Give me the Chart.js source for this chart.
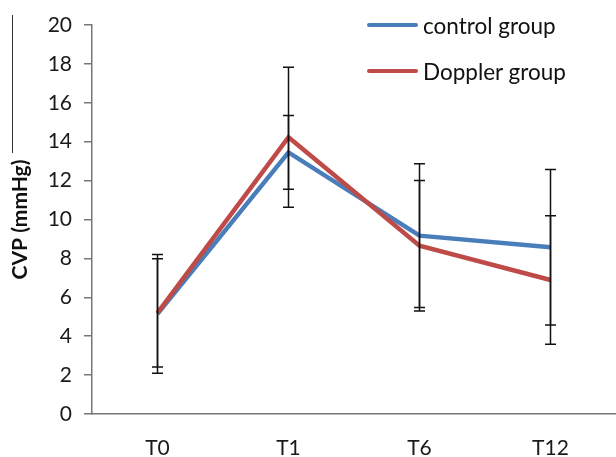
<!DOCTYPE html>
<html>
<head>
<meta charset="utf-8">
<script src="https://cdn.jsdelivr.net/npm/chart.js@4/dist/chart.umd.min.js"></script>
<style>
  html, body { margin: 0; padding: 0; background: #fff; }
  #wrap { position: relative; width: 616px; height: 457px; }
  #edge { position: absolute; left: 12px; top: 15px; width: 1px; height: 138px; background: #333; }
  .legend-item { position: absolute; left: 367px; height: 26px; display: flex; align-items: center; font-family: Lato, sans-serif; font-size: 22.5px; color: #111; }
  .legend-item span.swatch { display: inline-block; width: 51px; height: 4px; border-radius: 2px; margin-right: 5px; }
</style>
</head>
<body>
<div id="wrap">
  <canvas id="cvpChart" width="616" height="457"></canvas>
  <div id="edge"></div>
  <div id="legend"></div>
</div>
<script>
const timePoints = ["T0", "T1", "T6", "T12"];
const controlValues = [5.15, 13.45, 9.17, 8.57];
const controlErrors = [3.05, 1.9, 3.7, 4.0];
const dopplerValues = [5.2, 14.23, 8.65, 6.89];
const dopplerErrors = [2.78, 3.6, 3.35, 3.3];
const yTicks = [0, 2, 4, 6, 8, 10, 12, 14, 16, 18, 20];

const seriesColors = { control: "#4A7EBB", doppler: "#BE4B48" };

const errorBarPlugin = {
    id: "errorBars",
    afterDatasetsDraw(chart) {
        const ctx = chart.ctx;
        const x = chart.scales.x;
        const y = chart.scales.y;
        ctx.save();
        ctx.strokeStyle = "#111";
        ctx.lineWidth = 1.5;
        chart.data.datasets.forEach(ds => {
            ds.data.forEach((v, i) => {
                const err = ds.errors[i];
                const px = x.getPixelForValue(i);
                const top = y.getPixelForValue(v + err);
                const bot = y.getPixelForValue(v - err);
                ctx.beginPath();
                ctx.moveTo(px, top);
                ctx.lineTo(px, bot);
                ctx.moveTo(px - 5.5, top);
                ctx.lineTo(px + 5.5, top);
                ctx.moveTo(px - 5.5, bot);
                ctx.lineTo(px + 5.5, bot);
                ctx.stroke();
            });
        });
        ctx.restore();
    }
};

const chart = new Chart(document.getElementById("cvpChart"), {
    type: "line",
    data: {
        labels: timePoints,
        datasets: [
            {
                label: "control group",
                data: controlValues,
                errors: controlErrors,
                borderColor: seriesColors.control,
                borderWidth: 4.5,
                pointRadius: 0,
                tension: 0,
                order: 1
            },
            {
                label: "Doppler group",
                data: dopplerValues,
                errors: dopplerErrors,
                borderColor: seriesColors.doppler,
                borderWidth: 4.5,
                pointRadius: 0,
                tension: 0,
                order: 0
            }
        ]
    },
    options: {
        responsive: false,
        animation: false,
        layout: { padding: { top: 25, right: 0, left: 0, bottom: 0 } },
        plugins: {
            legend: { display: false },
            tooltip: { enabled: false }
        },
        scales: {
            x: {
                offset: true,
                grid: { display: false, drawTicks: false },
                border: { display: true, color: "#777", width: 1.5 },
                ticks: {
                    padding: 22,
                    color: "#1a1a1a",
                    font: { family: "Lato", size: 21 }
                },
                afterFit(scale) { scale.height = 43; }
            },
            y: {
                min: 0,
                max: 20,
                afterBuildTicks(scale) { scale.ticks = yTicks.map(v => ({ value: v })); },
                grid: { drawOnChartArea: false, drawTicks: true, tickLength: 8, color: "#777", lineWidth: 1.5 },
                border: { display: true, color: "#777", width: 1.5 },
                ticks: {
                    padding: 12,
                    color: "#1a1a1a",
                    font: { family: "Lato", size: 21 }
                },
                title: {
                    display: true,
                    text: "CVP (mmHg)",
                    color: "#111",
                    padding: { top: 8, bottom: 0 },
                    font: { family: "Lato", size: 21, weight: "bold" }
                },
                afterFit(scale) { scale.width = 92; }
            }
        }
    },
    plugins: [errorBarPlugin]
});

const legendBox = document.getElementById("legend");
const legendTops = [12, 58];
chart.data.datasets.forEach((ds, i) => {
    const item = document.createElement("div");
    item.className = "legend-item";
    item.style.top = legendTops[i] + "px";
    const sw = document.createElement("span");
    sw.className = "swatch";
    sw.style.background = ds.borderColor;
    item.appendChild(sw);
    item.appendChild(document.createTextNode(ds.label));
    legendBox.appendChild(item);
});
</script>
</body>
</html>
